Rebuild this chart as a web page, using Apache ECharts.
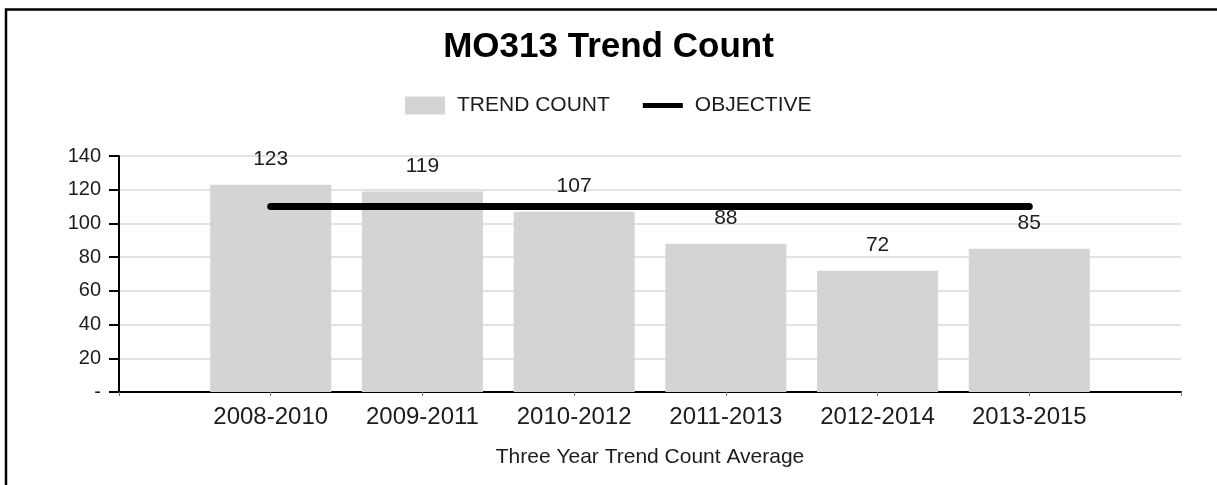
<!DOCTYPE html>
<html>
<head>
<meta charset="utf-8">
<title>MO313 Trend Count</title>
<script src="https://cdn.jsdelivr.net/npm/echarts@6/dist/echarts.min.js"></script>
<style>
  html, body { margin: 0; padding: 0; background: #ffffff; }
  #chart { width: 1217px; height: 485px; }
</style>
</head>
<body>
<div id="chart"></div>
<script>
// Three-year trend windows and their counts
const categories = ['2008-2010', '2009-2011', '2010-2012', '2011-2013', '2012-2014', '2013-2015'];
const trendCount = [123, 119, 107, 88, 72, 85];
const objective = [110, 110, 110, 110, 110, 110];
const yTickValues = [0, 20, 40, 60, 80, 100, 120, 140];

// Blank slots at both ends so the categories sit on interior ticks
const axisData = [''].concat(categories, ['']);
const barData = ['-'].concat(trendCount, ['-']);
const lineData = ['-'].concat(objective, ['-']);

const FONT = '"Liberation Sans", Arial, sans-serif';
const TEXT = '#1c1c1c';

const chart = echarts.init(document.getElementById('chart'), null, { renderer: 'canvas' });

chart.setOption({
  backgroundColor: '#ffffff',
  animation: false,
  graphic: [
    {
      // frame along the left and top edges
      type: 'polyline',
      silent: true,
      shape: { points: [[6, 485], [6, 9.5], [1217, 9.5]] },
      style: { stroke: '#000000', lineWidth: 2.5, fill: null }
    }
  ],
  title: {
    text: 'MO313 Trend Count',
    left: 'center',
    top: 30,
    padding: 0,
    textStyle: { fontFamily: FONT, fontSize: 35, fontWeight: 'bold', color: '#000000' }
  },
  legend: {
    left: 405,
    top: 95,
    padding: 0,
    itemWidth: 40,
    itemHeight: 18,
    itemGap: 33,
    textStyle: { fontFamily: FONT, fontSize: 21, color: TEXT, padding: [0, 0, 0, 7] },
    data: [
      { name: 'TREND COUNT', icon: 'rect' },
      { name: 'OBJECTIVE', icon: 'path://M0,0H40V5H0Z' }
    ]
  },
  grid: { left: 119, right: 36, top: 156, bottom: 93, containLabel: false },
  xAxis: {
    type: 'category',
    data: axisData,
    boundaryGap: false,
    name: 'Three Year Trend Count Average',
    nameLocation: 'middle',
    nameGap: 55,
    nameTextStyle: { fontFamily: FONT, fontSize: 21, color: TEXT },
    axisLine: { show: true, lineStyle: { color: '#000000', width: 2 } },
    axisTick: { show: true, length: 4, lineStyle: { color: '#777777', width: 1 } },
    axisLabel: { fontFamily: FONT, fontSize: 24, color: TEXT, margin: 13, interval: 0 },
    splitLine: { show: false }
  },
  yAxis: {
    type: 'value',
    min: 0,
    max: 140,
    interval: 20,
    axisLine: { show: true, lineStyle: { color: '#000000', width: 2 } },
    axisTick: { show: true, length: 10, lineStyle: { color: '#000000', width: 2 } },
    axisLabel: {
      fontFamily: FONT,
      fontSize: 20,
      color: TEXT,
      margin: 18,
      formatter: function (v) { return yTickValues.indexOf(v) === 0 ? '-' : String(v); }
    },
    splitLine: { show: true, lineStyle: { color: '#e2e2e2', width: 2 } }
  },
  series: [
    {
      name: 'TREND COUNT',
      type: 'bar',
      data: barData,
      barWidth: 121,
      itemStyle: { color: '#d4d4d4' },
      label: {
        show: true,
        position: 'top',
        distance: 15,
        fontFamily: FONT,
        fontSize: 21,
        color: TEXT
      },
      z: 2
    },
    {
      name: 'OBJECTIVE',
      type: 'line',
      data: lineData,
      symbol: 'none',
      lineStyle: { color: '#000000', width: 7, cap: 'round' },
      itemStyle: { color: '#000000' },
      z: 3
    }
  ]
});
</script>
</body>
</html>
